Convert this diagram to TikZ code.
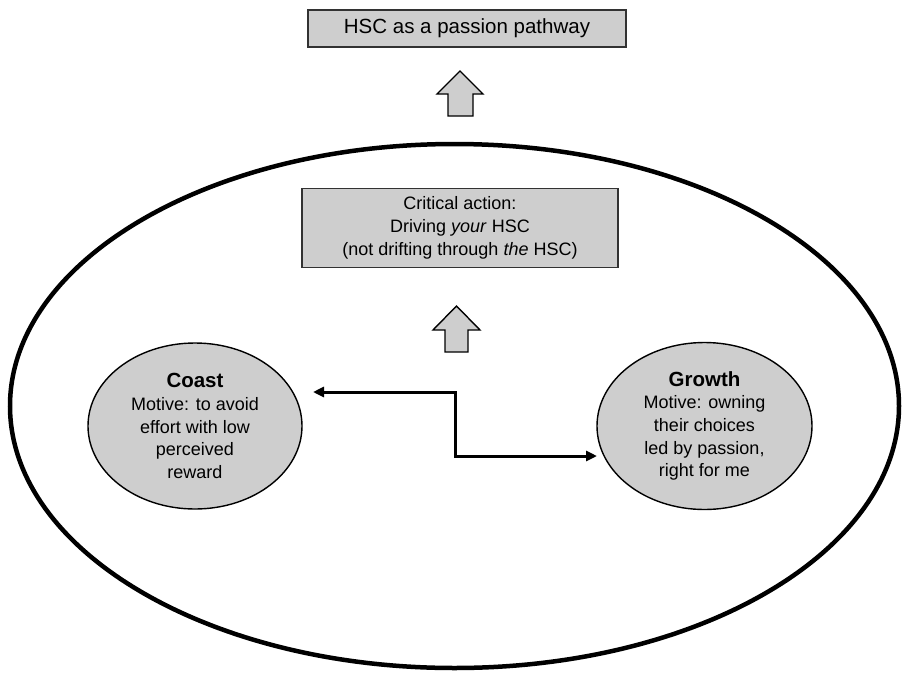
\documentclass[tikz,border=0pt]{standalone}
\usepackage{fontspec}
\setmainfont{Liberation Sans}
\usetikzlibrary{shapes.geometric,arrows.meta}
\definecolor{boxfill}{RGB}{206,206,206}
\definecolor{boxline}{RGB}{50,50,50}
\newcommand{\ovalhead}[1]{{\fontsize{20.5}{25}\selectfont\textbf{#1}}}
\tikzset{
  graybox/.style={draw=boxline, line width=1.4pt, fill=boxfill, rectangle, inner sep=0pt, align=center},
  grayoval/.style={draw=black, line width=1.4pt, fill=boxfill, ellipse, inner sep=0pt, align=center},
  fatarrow/.style={draw=black, line width=1.4pt, fill=boxfill, line join=miter},
  link/.style={draw=black, line width=3pt, {Triangle[length=11pt,width=10pt]}-{Triangle[length=11pt,width=10pt]}},
  txt/.style={font=\fontsize{18}{22.7}\selectfont}
}
\begin{document}
\begin{tikzpicture}[x=1pt,y=-1pt]
\useasboundingbox (0,0) rectangle (906,673);
\fill[white] (0,0) rectangle (906,673);
% outer ellipse
\node[draw=black, line width=4.5pt, ellipse, minimum width=889pt, minimum height=524pt, inner sep=0pt] (outer) at (454.5,406) {};
% top box
\node[graybox, minimum width=318pt, minimum height=37pt, font=\fontsize{20.5}{24}\selectfont] (top) at (467,28.5) {HSC as a passion pathway};
% critical box
\node[graybox, minimum width=316pt, minimum height=79pt, txt] (crit) at (460,228) {Critical action:\\Driving \textit{your} HSC\\(not drifting through \textit{the} HSC)};
% fat arrows
\draw[fatarrow] (460,71) -- (483,94) -- (473,94) -- (473,116) -- (448,116) -- (448,94) -- (437,94) -- cycle;
\draw[fatarrow] (456.5,306) -- (480,330) -- (468,330) -- (468,352) -- (445,352) -- (445,330) -- (433,330) -- cycle;
% ovals
\node[grayoval, minimum width=214pt, minimum height=166pt, txt] (coast) at (195,426) {\ovalhead{Coast}\\Motive: to avoid\\effort with low\\perceived\\reward};
\node[grayoval, minimum width=215pt, minimum height=167pt, txt] (growth) at (704.5,426) {\ovalhead{Growth}\\Motive: owning\\their choices\\led by passion,\\right for me};
% connector
\coordinate (cl) at (313,392);
\coordinate (cm1) at (455,392);
\coordinate (cm2) at (455,456);
\coordinate (cr) at (597,456);
\draw[link] (cl) -- (cm1) -- (cm2) -- (cr);
\end{tikzpicture}
\end{document}
